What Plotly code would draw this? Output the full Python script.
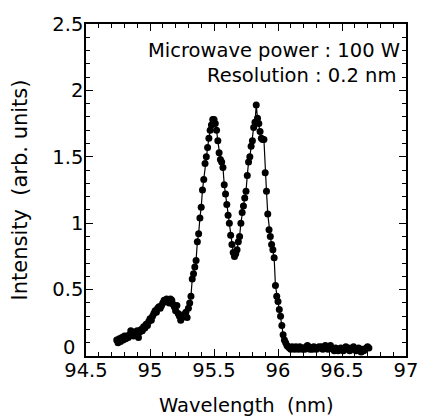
import plotly.graph_objects as go

wavelength = [
    94.74, 94.75, 94.76, 94.77, 94.78, 94.79, 94.80, 94.81, 94.82, 94.83,
    94.84, 94.85, 94.86, 94.87, 94.88, 94.89, 94.90, 94.91, 94.92, 94.93,
    94.94, 94.95, 94.96, 94.97, 94.98, 94.99, 95.00, 95.01, 95.02, 95.03,
    95.04, 95.05, 95.06, 95.07, 95.08, 95.09, 95.10, 95.11, 95.12, 95.13,
    95.14, 95.15, 95.16, 95.17, 95.18, 95.19, 95.20, 95.21, 95.22, 95.23,
    95.24, 95.25, 95.26, 95.27, 95.28, 95.29, 95.30, 95.31, 95.32, 95.33,
    95.34, 95.35, 95.36, 95.37, 95.38, 95.39, 95.40, 95.41, 95.42, 95.43,
    95.44, 95.45, 95.46, 95.47, 95.48, 95.49, 95.50, 95.51, 95.52, 95.53,
    95.54, 95.55, 95.56, 95.57, 95.58, 95.59, 95.60, 95.61, 95.62, 95.63,
    95.64, 95.65, 95.66, 95.67, 95.68, 95.69, 95.70, 95.71, 95.72, 95.73,
    95.74, 95.75, 95.76, 95.77, 95.78, 95.79, 95.80, 95.81, 95.82, 95.83,
    95.84, 95.85, 95.86, 95.87, 95.88, 95.89, 95.90, 95.91, 95.92, 95.93,
    95.94, 95.95, 95.96, 95.97, 95.98, 95.99, 96.00, 96.01, 96.02, 96.03,
    96.04, 96.05, 96.06, 96.07, 96.08, 96.09, 96.10, 96.11, 96.12, 96.13,
    96.14, 96.15, 96.16, 96.17, 96.18, 96.19, 96.20, 96.21, 96.22, 96.23,
    96.24, 96.25, 96.26, 96.27, 96.28, 96.29, 96.30, 96.31, 96.32, 96.33,
    96.34, 96.35, 96.36, 96.37, 96.38, 96.39, 96.40, 96.41, 96.42, 96.43,
    96.44, 96.45, 96.46, 96.47, 96.48, 96.49, 96.50, 96.51, 96.52, 96.53,
    96.54, 96.55, 96.56, 96.57, 96.58, 96.59, 96.60, 96.61, 96.62, 96.63,
    96.64, 96.65, 96.66, 96.67, 96.68, 96.69, 96.70, 96.71,
]

intensity = [
    0.12, 0.10, 0.13, 0.11, 0.14, 0.12, 0.15, 0.13, 0.15, 0.14,
    0.16, 0.19, 0.17, 0.15, 0.18, 0.16, 0.19, 0.14, 0.18, 0.20,
    0.19, 0.22, 0.21, 0.24, 0.23, 0.26, 0.28, 0.27, 0.30, 0.32,
    0.34, 0.33, 0.36, 0.37, 0.36, 0.38, 0.40, 0.42, 0.41, 0.43,
    0.42, 0.40, 0.43, 0.42, 0.39, 0.37, 0.34, 0.38, 0.32, 0.30,
    0.27, 0.29, 0.31, 0.30, 0.33, 0.29, 0.36, 0.40, 0.45, 0.58,
    0.62, 0.67, 0.72, 0.86, 0.92, 1.04, 1.12, 1.25, 1.33, 1.45,
    1.50, 1.57, 1.64, 1.70, 1.74, 1.78, 1.78, 1.75, 1.70, 1.62,
    1.53, 1.48, 1.46, 1.42, 1.29, 1.22, 1.14, 1.06, 1.00, 0.91,
    0.84, 0.78, 0.75, 0.77, 0.80, 0.86, 0.90, 1.00, 1.08, 1.13,
    1.19, 1.24, 1.36, 1.46, 1.50, 1.58, 1.62, 1.72, 1.76, 1.89,
    1.79, 1.75, 1.69, 1.64, 1.63, 1.63, 1.38, 1.24, 1.07, 0.95,
    0.90, 0.84, 0.80, 0.74, 0.53, 0.45, 0.41, 0.35, 0.30, 0.23,
    0.16, 0.12, 0.10, 0.08, 0.07, 0.06, 0.05, 0.07, 0.06, 0.05,
    0.07, 0.06, 0.05, 0.07, 0.06, 0.05, 0.06, 0.05, 0.07, 0.08,
    0.07, 0.05, 0.06, 0.05, 0.07, 0.06, 0.05, 0.06, 0.07, 0.06,
    0.07, 0.05, 0.06, 0.08, 0.06, 0.05, 0.07, 0.08, 0.06, 0.05,
    0.04, 0.06, 0.05, 0.04, 0.05, 0.06, 0.05, 0.04, 0.06, 0.07,
    0.05, 0.06, 0.04, 0.05, 0.06, 0.07, 0.05, 0.04, 0.05, 0.06,
    0.04, 0.03, 0.05, 0.04, 0.05, 0.06, 0.07, 0.06,
]

x_ticks = [94.5, 95, 95.5, 96, 96.5, 97]
x_tick_labels = ["94.5", "95", "95.5", "96", "96.5", "97"]
y_ticks = [0, 0.5, 1, 1.5, 2, 2.5]
y_tick_labels = ["0", "0.5", "1", "1.5", "2", "2.5"]
notes = ["Microwave power : 100 W", "Resolution : 0.2 nm"]
x_title = "Wavelength\u00a0\u00a0(nm)"
y_title = "Intensity\u00a0\u00a0(arb. units)"

FONT = "DejaVu Sans"
FS = 19.5

fig = go.Figure()
fig.add_trace(go.Scatter(
    x=wavelength, y=intensity, mode="lines+markers",
    line=dict(color="black", width=1.2),
    marker=dict(color="black", size=7, symbol="circle"),
    showlegend=False,
))

axis_common = dict(
    showgrid=False, zeroline=False,
    showline=True, linecolor="black", linewidth=1.5, mirror="ticks",
    ticks="inside", ticklen=7, tickwidth=1, tickcolor="black",
    minor=dict(ticks="inside", ticklen=4, tickwidth=1, tickcolor="black", dtick=0.1),
    tickfont=dict(family=FONT, size=FS, color="black"),
)

fig.update_xaxes(
    range=[94.5, 97], tickvals=x_ticks, ticktext=x_tick_labels,
    ticklabelstandoff=-4,
    **axis_common,
)
# the "0" label sits slightly above the axis corner in the original, drawn separately below
fig.update_yaxes(
    range=[0, 2.5], tickvals=y_ticks, ticktext=[""] + y_tick_labels[1:],
    title=dict(text=y_title, font=dict(family=FONT, size=21, color="black"), standoff=19),
    ticklabelstandoff=-3,
    **axis_common,
)
fig.add_annotation(x=-0.027, xref="paper", y=y_ticks[0], yref="y", yshift=9,
                   text=y_tick_labels[0], showarrow=False,
                   xanchor="right", yanchor="middle",
                   font=dict(family=FONT, size=FS, color="black"))

fig.add_annotation(x=0.5, xref="paper", y=-0.1476, yref="paper", text=x_title,
                   showarrow=False, xanchor="center", yanchor="middle",
                   font=dict(family=FONT, size=FS, color="black"))

fig.add_annotation(x=0.987, xref="paper", y=2.30, yref="y", text=notes[0],
                   showarrow=False, xanchor="right", yanchor="middle",
                   font=dict(family=FONT, size=FS, color="black"))
fig.add_annotation(x=0.974, xref="paper", y=2.11, yref="y", text=notes[1],
                   showarrow=False, xanchor="right", yanchor="middle",
                   font=dict(family=FONT, size=FS, color="black"))

fig.update_layout(
    width=430, height=420,
    margin=dict(l=86, r=12, t=24, b=64),
    plot_bgcolor="white", paper_bgcolor="white",
    font=dict(family=FONT, color="black"),
)

fig.write_html("out.html")
